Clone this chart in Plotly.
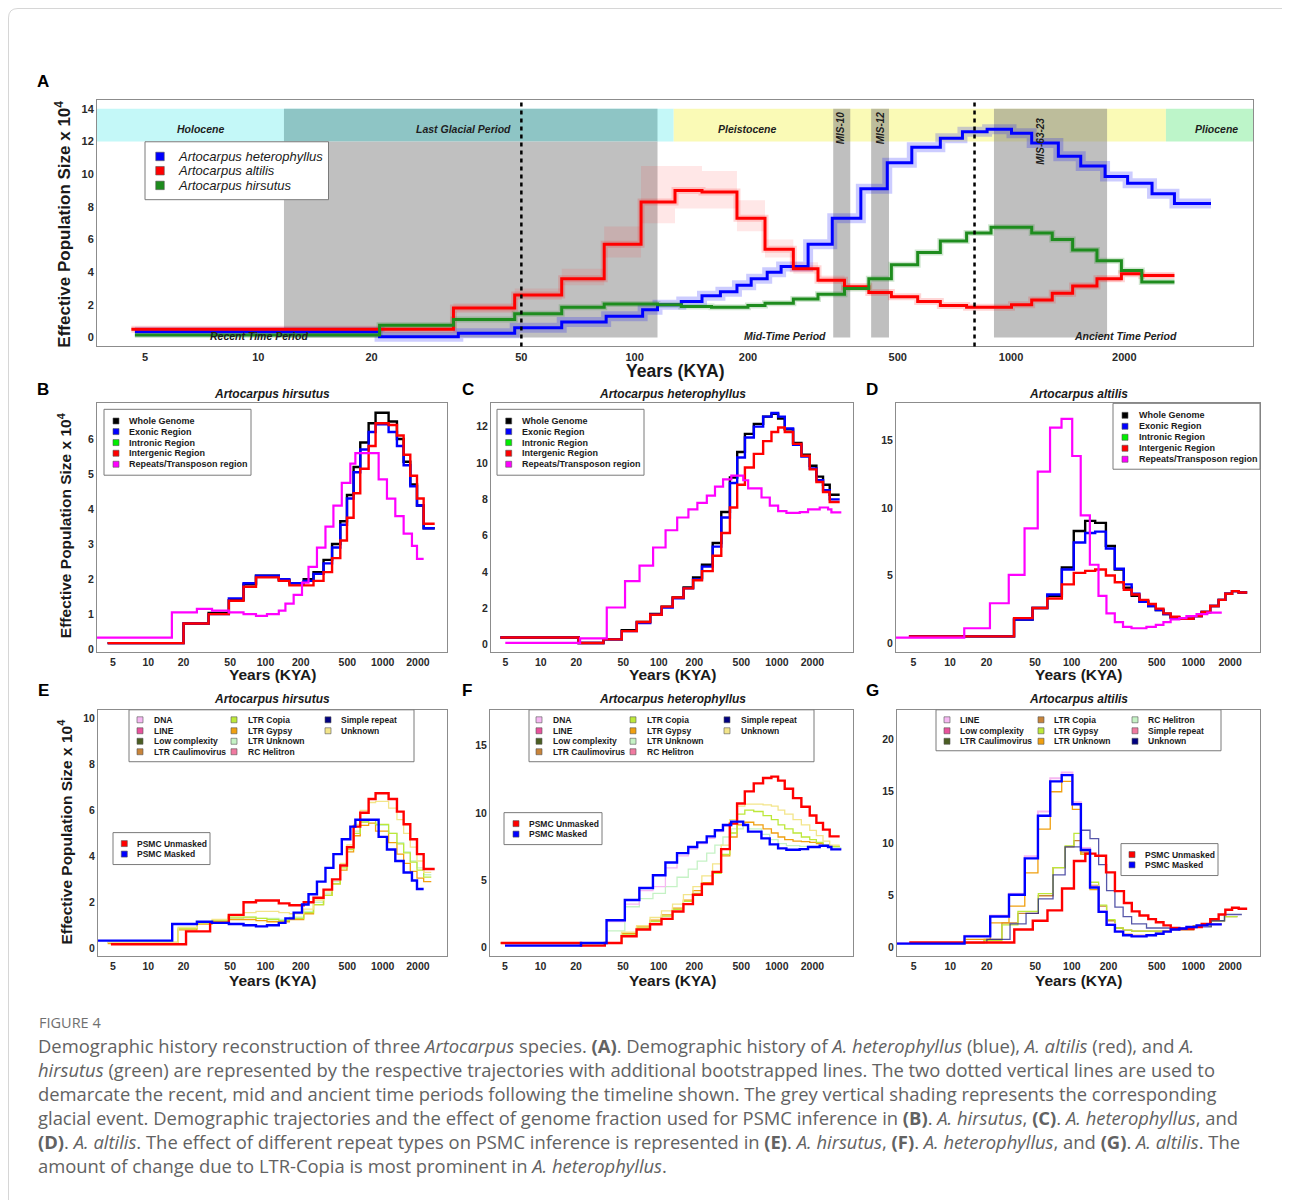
import plotly.graph_objects as go

# ======================= DATA =======================
KYA_TICKS = [5, 10, 20, 50, 100, 200, 500, 1000, 2000]

# ---- Panel A (time in KYA, Ne x 10^4), step boundaries / step values ----
A_het_t = [4.7, 21, 34, 48, 64, 84, 105, 115, 133, 151, 169, 187, 204, 225, 245, 289, 335, 399,
           469, 545, 649, 743, 864, 1003, 1135, 1336, 1532, 1778, 2041, 2370, 2718, 3400]
A_het_v = [0.35, 0.05, 0.25, 0.6, 0.95, 1.3, 1.7, 2.0, 2.2, 2.55, 2.8, 3.2, 3.6, 4.0, 4.35, 5.7,
           7.3, 9.1, 10.7, 11.65, 12.2, 12.6, 12.75, 12.5, 11.9, 11.1, 10.5, 9.85, 9.45, 8.8, 8.2]
A_alt_t = [4.6, 33, 48, 64, 83, 104, 128, 151, 187, 222, 264, 307, 361, 419, 481, 565, 649, 762,
           885, 1003, 1135, 1287, 1458, 1692, 1965, 2226, 2718]
A_alt_v = [0.5, 1.8, 2.6, 3.6, 5.7, 8.3, 9.0, 8.9, 7.3, 5.4, 4.2, 3.5, 3.1, 2.75, 2.5, 2.2, 1.95,
           1.85, 1.85, 2.0, 2.3, 2.7, 3.15, 3.6, 3.9, 3.8]
A_alt_boot_hi = [0.6, 2.1, 3.0, 4.2, 6.8, 10.5, 10.5, 10.2, 8.4, 6.0, 4.6, 3.8, 3.3, 2.9, 2.6, 2.3,
                 2.05, 1.95, 1.95, 2.1, 2.45, 2.9, 3.35, 3.8, 4.05, 3.95]
A_alt_boot_lo = [0.4, 1.5, 2.3, 3.2, 4.9, 7.0, 7.9, 7.9, 6.5, 4.9, 3.9, 3.3, 2.9, 2.6, 2.4, 2.1,
                 1.85, 1.75, 1.75, 1.9, 2.15, 2.5, 2.95, 3.4, 3.75, 3.65]
A_hir_t = [4.7, 21, 33, 48, 64, 83, 115, 133, 160, 200, 222, 264, 307, 361, 419, 481, 565, 649,
           762, 885, 1135, 1287, 1458, 1692, 1965, 2226, 2718]
A_hir_v = [0.15, 0.75, 1.1, 1.45, 1.85, 2.05, 2.0, 1.9, 1.85, 1.95, 2.1, 2.35, 2.65, 3.0, 3.6,
           4.45, 5.2, 5.9, 6.4, 6.75, 6.4, 6.0, 5.35, 4.7, 4.1, 3.4]
A_species = ["Artocarpus heterophyllus", "Artocarpus altilis", "Artocarpus hirsutus"]

# geological timeline (KYA)
LGP = (11.7, 115)
PLEIST = (127, 2580)
MIS = {"MIS-10": (337, 374), "MIS-12": (425, 474), "MIS-63-23": (901, 1800)}
PERIOD_BOUNDS = [50, 800]
EPOCH_LABELS = ["Holocene", "Last Glacial Period", "Pleistocene", "Pliocene"]
PERIOD_LABELS = ["Recent Time Period", "Mid-Time Period", "Ancient Time Period"]

# ---- Panel B: A. hirsutus genome fractions ----
B_t = [4.5, 20, 32.7, 48.7, 65, 83, 130, 160, 212, 257, 313, 370, 435, 496, 565, 644, 759, 870,
       1124, 1324, 1510, 1721, 1963, 2238, 2780]
B_whole = [0.17, 0.73, 1.03, 1.4, 1.85, 2.1, 1.97, 1.88, 2.0, 2.2, 2.55, 3.0, 3.65, 4.4, 5.2, 5.9,
           6.45, 6.75, 6.5, 6.0, 5.35, 4.7, 4.1, 3.45]
B_exon = [0.17, 0.73, 1.0, 1.45, 1.88, 2.1, 2.0, 1.88, 1.95, 2.15, 2.45, 2.9, 3.55, 4.3, 5.05, 5.7,
          6.2, 6.42, 6.2, 5.8, 5.25, 4.65, 4.1, 3.45]
B_interg = [0.17, 0.73, 1.0, 1.38, 1.78, 2.05, 1.95, 1.82, 1.82, 1.95, 2.2, 2.6, 3.1, 3.75, 4.45,
            5.15, 5.8, 6.45, 6.4, 6.1, 5.55, 4.95, 4.3, 3.58]
B_rep_t = [3.65, 15.9, 26, 35, 48.7, 65, 83, 103, 130, 148, 174, 205, 233, 275, 325, 380, 448, 530,
           585, 924, 1088, 1282, 1510, 1778, 1963, 2238]
B_rep = [0.33, 1.05, 1.15, 1.1, 1.05, 1.0, 0.95, 1.0, 1.1, 1.3, 1.55, 1.9, 2.35, 2.9, 3.5, 4.1,
         4.75, 5.3, 5.6, 4.85, 4.3, 3.8, 3.3, 2.95, 2.58]

# ---- Panel C: A. heterophyllus genome fractions ----
C_t = [4.54, 20.9, 33.9, 48.5, 65, 84.5, 105.6, 131, 162, 195, 232, 286, 338, 400, 461, 536, 638,
       765, 900, 1025, 1167, 1372, 1614, 1900, 2163, 2461, 2804, 3405]
C_whole = [0.4, 0.1, 0.3, 0.8, 1.25, 1.7, 2.1, 2.6, 3.15, 3.7, 4.4, 5.6, 7.3, 9.2, 10.6, 11.6,
           12.15, 12.55, 12.7, 12.45, 11.85, 11.1, 10.45, 9.85, 9.25, 8.8, 8.25]
C_exon = [0.4, 0.1, 0.3, 0.75, 1.2, 1.65, 2.05, 2.55, 3.1, 3.6, 4.3, 5.4, 7.0, 8.9, 10.3, 11.4,
          12.0, 12.55, 12.75, 12.55, 11.9, 11.0, 10.35, 9.7, 9.05, 8.5, 8.0]
C_interg = [0.4, 0.1, 0.3, 0.75, 1.25, 1.65, 2.1, 2.6, 3.1, 3.55, 4.05, 4.9, 6.15, 7.55, 8.8, 9.75,
            10.5, 11.2, 11.7, 11.95, 11.7, 11.05, 10.4, 9.65, 8.95, 8.4, 7.85]
C_rep_t = [5.0, 21.5, 36.2, 51.7, 68.6, 89.4, 114, 143, 178, 212, 255, 299, 350, 411, 519, 571, 741,
           871, 1025, 1205, 1563, 1838, 2307, 2715, 2897, 3517]
C_rep = [0.1, 0.35, 2.05, 3.5, 4.35, 5.35, 6.3, 7.0, 7.45, 7.8, 8.2, 8.7, 9.1, 9.3, 9.05, 8.6, 8.1,
         7.65, 7.35, 7.25, 7.3, 7.45, 7.55, 7.45, 7.28]

# ---- Panel D: A. altilis genome fractions ----
D_t = [4.6, 33.6, 47.7, 63, 83, 104, 129, 156, 191, 226, 268, 311, 360, 425, 491, 567, 650, 765,
       1000, 1169, 1374, 1611, 1828, 2076, 2355, 2764]
D_whole = [0.5, 1.75, 2.6, 3.5, 5.6, 8.3, 9.05, 8.9, 7.2, 5.45, 4.1, 3.5, 3.1, 2.75, 2.45, 2.15,
           1.9, 1.8, 2.0, 2.3, 2.75, 3.2, 3.65, 3.85, 3.75]
D_exon = [0.5, 1.75, 2.6, 3.6, 5.45, 7.45, 8.15, 8.25, 7.0, 5.5, 4.35, 3.65, 3.05, 2.75, 2.45, 2.15,
          1.9, 1.8, 2.0, 2.3, 2.75, 3.2, 3.65, 3.85, 3.75]
D_interg = [0.5, 1.85, 2.6, 3.3, 4.35, 5.2, 5.35, 5.45, 5.0, 4.5, 3.95, 3.6, 3.2, 2.9, 2.55, 2.2,
            1.95, 1.8, 2.0, 2.3, 2.75, 3.2, 3.65, 3.85, 3.75]
D_rep_t = [3.6, 13.1, 21.3, 30.4, 41, 52.6, 66.4, 82.5, 101, 118.6, 141, 166, 193, 226, 264, 310,
           411, 491, 567, 650, 765, 876, 1061, 1300, 1710]
D_rep = [0.4, 1.1, 2.95, 5.05, 8.5, 12.7, 15.95, 16.6, 13.85, 9.45, 5.8, 3.5, 2.2, 1.55, 1.2, 1.1,
         1.2, 1.35, 1.55, 1.75, 1.85, 2.0, 2.15, 2.25]

REGION_LABELS = ["Whole Genome", "Exonic Region", "Intronic Region", "Intergenic Region",
                 "Repeats/Transposon region"]

# ---- Panel E: A. hirsutus repeat types ----
E_t = [4.8, 21, 33.7, 48.7, 65, 83, 130, 160, 212, 257, 313, 370, 435, 496, 565, 644, 759, 870,
       1124, 1324, 1510, 1721, 1963, 2238, 2780]
E_unmasked = [0.17, 0.73, 1.1, 1.45, 2.0, 2.08, 1.95, 1.87, 2.0, 2.2, 2.55, 3.0, 3.6, 4.4, 5.3, 5.9,
              6.5, 6.75, 6.5, 5.95, 5.4, 4.75, 4.1, 3.45]
E_masked_t = [3.7, 16, 26, 35, 48.7, 65, 83, 103, 130, 148, 174, 205, 233, 275, 325, 380, 448, 530,
              585, 924, 1088, 1282, 1510, 1778, 1963, 2238]
E_masked = [0.33, 1.05, 1.15, 1.1, 1.05, 1.0, 0.95, 1.0, 1.1, 1.3, 1.55, 1.9, 2.35, 2.9, 3.5, 4.1,
            4.75, 5.3, 5.6, 4.85, 4.3, 3.8, 3.3, 2.95, 2.58]
E_rep_t = [4.5, 18, 26, 35, 48, 65, 83, 103, 130, 160, 212, 257, 313, 370, 435, 496, 565, 644, 759,
           870, 1124, 1324, 1510, 1721, 1963, 2238, 2600]
E_unknown = [0.25, 0.9, 1.15, 1.25, 1.45, 1.55, 1.6, 1.6, 1.55, 1.5, 1.7, 2.1, 2.5, 3.0, 3.7, 4.5,
             5.4, 6.0, 6.35, 6.4, 6.1, 5.6, 5.0, 4.4, 3.8, 3.3]
E_copia = [0.25, 0.85, 1.1, 1.2, 1.35, 1.35, 1.3, 1.25, 1.2, 1.3, 1.55, 1.9, 2.3, 2.8, 3.5, 4.3,
           5.0, 5.5, 5.6, 5.4, 5.0, 4.55, 4.15, 3.75, 3.4, 3.1]
E_gypsy = [0.2, 0.8, 1.05, 1.15, 1.25, 1.25, 1.2, 1.15, 1.15, 1.25, 1.5, 1.9, 2.3, 2.8, 3.4, 4.2,
           4.9, 5.35, 5.45, 5.1, 4.6, 4.1, 3.7, 3.35, 3.05, 2.9]
E_ltrunk = [0.25, 0.9, 1.1, 1.15, 1.3, 1.35, 1.3, 1.3, 1.25, 1.35, 1.6, 2.0, 2.4, 2.9, 3.6, 4.4,
            5.1, 5.5, 5.6, 5.35, 5.0, 4.6, 4.2, 3.8, 3.5, 3.2]

# ---- Panel F: A. heterophyllus repeat types ----
F_t = [4.6, 22, 35, 48.5, 65, 84.5, 105.6, 131, 162, 195, 232, 286, 338, 400, 461, 536, 638, 765,
       900, 1025, 1167, 1372, 1614, 1900, 2163, 2461, 2804, 3405]
F_unmasked = [0.3, 0.1, 0.3, 0.8, 1.3, 1.7, 2.1, 2.65, 3.2, 3.9, 4.7, 5.6, 7.3, 9.2, 10.7, 11.6,
              12.2, 12.6, 12.7, 12.4, 11.8, 11.1, 10.45, 9.8, 9.25, 8.75, 8.25]
F_gypsy = [0.3, 0.2, 0.3, 1.0, 1.5, 2.0, 2.4, 2.9, 3.5, 4.2, 4.8, 5.6, 6.8, 8.2, 9.1, 9.3, 9.1,
           8.8, 8.5, 8.2, 8.0, 7.9, 7.85, 7.8, 7.7, 7.55, 7.5]
F_copia = [0.3, 0.2, 0.3, 0.9, 1.4, 1.9, 2.3, 2.8, 3.4, 4.0, 4.7, 5.5, 6.9, 8.5, 9.9, 10.2, 10.1,
           9.8, 9.5, 9.1, 8.8, 8.5, 8.2, 8.0, 7.8, 7.6, 7.5]
F_unknown = [0.3, 0.2, 0.3, 1.1, 1.6, 2.2, 2.7, 3.2, 3.9, 4.5, 5.3, 6.2, 7.6, 9.5, 10.5, 10.65,
             10.65, 10.6, 10.5, 10.2, 9.9, 9.5, 9.1, 8.7, 8.3, 7.9, 7.6]
F_masked_t = [5.0, 22, 36.2, 51.7, 68.6, 89.4, 114, 143, 178, 212, 255, 299, 350, 411, 519, 571,
              741, 871, 1025, 1205, 1563, 1838, 2307, 2715, 2897, 3517]
F_masked = [0.1, 0.3, 2.0, 3.5, 4.4, 5.35, 6.3, 7.0, 7.45, 7.8, 8.25, 8.7, 9.1, 9.35, 9.1, 8.6,
            8.1, 7.65, 7.35, 7.25, 7.3, 7.45, 7.55, 7.45, 7.28]
F_dna = [0.15, 0.3, 1.9, 3.2, 4.2, 4.5, 5.9, 6.8, 7.3, 7.7, 8.1, 8.6, 9.0, 9.25, 9.1, 8.6, 8.1,
         7.65, 7.35, 7.25, 7.3, 7.45, 7.55, 7.45, 7.3]
F_ltrunk = [0.2, 0.3, 1.2, 3.0, 3.6, 4.0, 4.5, 5.2, 5.8, 6.4, 7.0, 7.6, 8.2, 8.8, 9.1, 8.8, 8.4,
            8.0, 7.7, 7.55, 7.5, 7.5, 7.5, 7.45, 7.4]

# ---- Panel G: A. altilis repeat types ----
G_t = [4.6, 33.6, 47.7, 63, 83, 104, 129, 156, 191, 226, 268, 311, 360, 425, 491, 567, 650, 765,
       1000, 1169, 1374, 1611, 1828, 2076, 2355, 2764]
G_unmasked = [0.5, 1.75, 2.6, 3.6, 5.7, 8.35, 9.05, 8.85, 7.25, 5.45, 4.3, 3.5, 3.1, 2.75, 2.45,
              2.15, 1.9, 1.8, 2.0, 2.3, 2.75, 3.2, 3.65, 3.85, 3.75]
G_masked_t = [3.6, 13.1, 21.3, 30.4, 41, 52.6, 66.4, 82.5, 101, 118.6, 141, 166, 193, 226, 264, 310,
              411, 491, 567, 650, 765, 876, 1061, 1300, 1710]
G_masked = [0.4, 1.1, 3.0, 5.1, 8.6, 12.7, 16.0, 16.6, 13.8, 9.4, 5.8, 3.45, 2.2, 1.55, 1.2, 1.1,
            1.2, 1.35, 1.55, 1.75, 1.85, 2.0, 2.15, 2.25]
G_line = [0.45, 1.15, 3.1, 5.2, 8.8, 13.1, 16.3, 16.85, 14.0, 9.6, 5.9, 3.5, 2.25, 1.6, 1.25, 1.15,
          1.2, 1.35, 1.55, 1.75, 1.85, 2.0, 2.15, 2.25]
G_ltrunk = [0.45, 0.8, 2.4, 4.0, 7.2, 11.4, 15.0, 16.0, 13.3, 9.0, 5.6, 3.4, 2.2, 1.6, 1.3, 1.2,
            1.25, 1.4, 1.6, 1.75, 1.85, 2.0, 2.15, 2.3]
G_gyp_t = [4.6, 19, 26.6, 36, 53, 70, 88, 104, 118, 141, 166, 193, 226, 264, 310, 411, 650, 1000,
           1400, 1800, 2300]
G_gypsy = [0.5, 0.7, 2.2, 3.5, 5.2, 7.7, 9.8, 11.0, 9.0, 6.3, 4.1, 2.7, 1.9, 1.7, 1.6, 1.6, 1.75,
           2.1, 2.6, 3.0]
G_copia = [0.5, 0.8, 2.4, 3.3, 5.0, 7.7, 9.7, 10.3, 9.2, 6.0, 4.0, 2.6, 1.9, 1.7, 1.6, 1.6, 1.75,
           2.1, 2.6, 3.0]
G_unk_t = [4.6, 20, 31, 42, 53, 70, 88, 118, 141, 166, 193, 226, 264, 310, 411, 650, 1000, 1400,
           1800, 2500]
G_unknown = [0.5, 0.8, 2.3, 3.3, 4.7, 7.0, 9.7, 11.3, 10.5, 8.0, 5.5, 3.9, 3.0, 2.3, 1.9, 1.8, 2.0,
             2.6, 3.2]

REPEAT_LABELS_EF = ["DNA", "LINE", "Low complexity", "LTR Caulimovirus", "LTR Copia", "LTR Gypsy",
                    "LTR Unknown", "RC Helitron", "Simple repeat", "Unknown"]
REPEAT_LABELS_G = ["LINE", "Low complexity", "LTR Caulimovirus", "LTR Copia", "LTR Gypsy",
                   "LTR Unknown", "RC Helitron", "Simple repeat", "Unknown"]
PSMC_LABELS = ["PSMC Unmasked", "PSMC Masked"]

# ======================= STYLE / LAYOUT =======================
OFF = 8                      # page body margin of the html page
W, H = 1290 - OFF, 1200 - OFF
FONT = "Liberation Sans, Arial, sans-serif"
CAP_FONT = "Open Sans, Lato, sans-serif"
PAL10 = ['#f6b8f2', '#e8529c', '#4b5e23', '#c8843a', '#bde83a', '#f0a010', '#c5f2c5', '#f07aa0',
         '#000080', '#f3e58a']
REGION_COLORS = ['#000000', '#0000ff', '#00ee00', '#ff0000', '#ff00ff']
SPECIES_COLORS = ['#0000ff', '#ff0000', '#1e8c1e']


def px(x):
    return (x - OFF) / W


def py(y):
    return 1 - (y - OFF) / H


def step(t, v):
    assert len(t) == len(v) + 1, (len(t), len(v))
    return list(t), list(v) + [v[-1]]


PANELS = {
    'A': dict(n=1, box=(97, 100, 1253, 347), xr=(0.5714, 3.643), yr=(-0.55, 14.55), yt=list(range(0, 15, 2)), fs=11),
    'B': dict(n=2, box=(97, 404, 447, 653.5), xr=(0.5625, 3.549), yr=(-0.095, 7.02), yt=list(range(0, 7)), fs=10.5),
    'C': dict(n=3, box=(491, 404, 853, 653.5), xr=(0.5778, 3.645), yr=(-0.42, 13.28), yt=list(range(0, 13, 2)), fs=10.5),
    'D': dict(n=4, box=(896, 404, 1260, 653.5), xr=(0.5566, 3.547), yr=(-0.69, 17.75), yt=[0, 5, 10, 15], fs=10.5),
    'E': dict(n=5, box=(98, 711, 447, 958), xr=(0.571, 3.549), yr=(-0.36, 10.39), yt=list(range(0, 11, 2)), fs=10.5),
    'F': dict(n=6, box=(490, 711, 853, 958), xr=(0.572, 3.645), yr=(-0.70, 17.68), yt=[0, 5, 10, 15], fs=10.5),
    'G': dict(n=7, box=(897, 711, 1260, 958), xr=(0.562, 3.547), yr=(-0.83, 22.88), yt=[0, 5, 10, 15, 20], fs=10.5),
}


def axn(n, kind):
    return kind if n == 1 else f"{kind}{n}"


fig = go.Figure()
layout = dict(width=W, height=H, margin=dict(l=0, r=0, t=0, b=0), paper_bgcolor='white',
              plot_bgcolor='white', showlegend=False, font=dict(family=FONT, color='#222'))
shapes, annots = [], []

for key, P in PANELS.items():
    n = P['n']
    x0, y0, x1, y1 = P['box']
    tf = dict(family=FONT, size=P['fs'], color='#2a2a2a', weight='bold')
    layout['xaxis' if n == 1 else f'xaxis{n}'] = dict(
        type='log', domain=[px(x0), px(x1)], range=list(P['xr']), anchor=axn(n, 'y'),
        tickmode='array', tickvals=KYA_TICKS, ticktext=[str(v) for v in KYA_TICKS],
        showgrid=False, zeroline=False, showline=True, mirror=True, linecolor='#8c8c8c',
        linewidth=1, ticks='', tickfont=tf, fixedrange=True)
    layout['yaxis' if n == 1 else f'yaxis{n}'] = dict(
        domain=[py(y1), py(y0)], range=list(P['yr']), anchor=axn(n, 'x'),
        tickmode='array', tickvals=P['yt'], showgrid=False, zeroline=False, showline=True,
        mirror=True, linecolor='#8c8c8c', linewidth=1, ticks='', tickfont=tf, fixedrange=True)


def add_step(n, t, v, color, width, opacity=1.0, dash=None):
    x, y = step(t, v)
    fig.add_trace(go.Scatter(x=x, y=y, mode='lines',
                             line=dict(shape='hv', color=color, width=width, dash=dash),
                             opacity=opacity, xaxis=axn(n, 'x'), yaxis=axn(n, 'y'),
                             hoverinfo='skip', showlegend=False))


# ---------------- Panel A backgrounds ----------------
xminA = 10 ** PANELS['A']['xr'][0]
xmaxA = 10 ** PANELS['A']['xr'][1]


def rectA(x0, x1, y0, y1, color, opacity=1.0):
    shapes.append(dict(type='rect', xref='x', yref='y', x0=x0, x1=x1, y0=y0, y1=y1,
                       fillcolor=color, opacity=opacity, line=dict(width=0), layer='below'))


rectA(xminA, PLEIST[0], 12, 14, '#c4f8f8')
rectA(LGP[0], LGP[1], 12, 14, '#8ec5c5')
rectA(PLEIST[0], PLEIST[1], 12, 14, '#fafab6')
rectA(PLEIST[1], xmaxA, 12, 14, '#bdf5c9')
rectA(LGP[0], LGP[1], 0, 12, '#c0c0c0')
for name, (a, b) in MIS.items():
    rectA(a, b, 0, 14, 'rgba(128,128,128,0.5)')
for xb in PERIOD_BOUNDS:
    shapes.append(dict(type='line', xref='x', yref='y domain', x0=xb, x1=xb, y0=0, y1=1,
                       line=dict(color='black', width=2.5, dash='4px,4px'), layer='above'))

# bootstrap envelope / halos
xb, ylo = step(A_alt_t, A_alt_boot_lo)
_, yhi = step(A_alt_t, A_alt_boot_hi)
fig.add_trace(go.Scatter(x=xb, y=ylo, mode='lines', line=dict(shape='hv', width=0, color='red'),
                         xaxis='x', yaxis='y', hoverinfo='skip', showlegend=False))
fig.add_trace(go.Scatter(x=xb, y=yhi, mode='lines', line=dict(shape='hv', width=0, color='red'),
                         fill='tonexty', fillcolor='rgba(255,40,40,0.11)',
                         xaxis='x', yaxis='y', hoverinfo='skip', showlegend=False))
add_step(1, A_het_t, A_het_v, 'rgba(0,0,255,0.2)', 10)
add_step(1, A_alt_t, A_alt_v, 'rgba(255,0,0,0.16)', 7)
add_step(1, A_hir_t, A_hir_v, 'rgba(0,120,0,0.18)', 6)
add_step(1, A_het_t, A_het_v, SPECIES_COLORS[0], 3)
add_step(1, A_alt_t, A_alt_v, SPECIES_COLORS[1], 3)
add_step(1, A_hir_t, A_hir_v, SPECIES_COLORS[2], 3)

# ---------------- Panels B-D ----------------
for n, (t, wh, ex, ig, rt, rp) in zip([2, 3, 4], [
        (B_t, B_whole, B_exon, B_interg, B_rep_t, B_rep),
        (C_t, C_whole, C_exon, C_interg, C_rep_t, C_rep),
        (D_t, D_whole, D_exon, D_interg, D_rep_t, D_rep)]):
    add_step(n, t, wh, REGION_COLORS[0], 2.4)
    add_step(n, t, ex, REGION_COLORS[1], 2.4)
    add_step(n, t, ig, REGION_COLORS[3], 2.4)
    add_step(n, rt, rp, REGION_COLORS[4], 2.2)

# ---------------- Panels E-G ----------------
TW = 1.3
add_step(5, E_rep_t, E_ltrunk, PAL10[6], TW)
add_step(5, E_rep_t, E_gypsy, PAL10[5], TW)
add_step(5, E_rep_t, E_copia, PAL10[4], TW)
add_step(5, E_rep_t, E_unknown, PAL10[9], TW)
add_step(5, E_t, E_unmasked, '#ff0000', 2.4)
add_step(5, E_masked_t, E_masked, '#0000ff', 2.4)

add_step(6, F_masked_t, F_ltrunk, PAL10[6], TW)
add_step(6, F_masked_t, F_dna, PAL10[0], TW)
add_step(6, F_t, F_gypsy, PAL10[5], TW)
add_step(6, F_t, F_copia, PAL10[4], TW)
add_step(6, F_t, F_unknown, PAL10[9], TW)
add_step(6, F_t, F_unmasked, '#ff0000', 2.4)
add_step(6, F_masked_t, F_masked, '#0000ff', 2.4)

add_step(7, G_gyp_t, G_copia, PAL10[3], TW)
add_step(7, G_gyp_t, G_gypsy, PAL10[4], TW)
add_step(7, G_masked_t, G_ltrunk, PAL10[5], TW)
add_step(7, G_unk_t, G_unknown, 'rgba(30,30,140,0.75)', TW)
add_step(7, G_masked_t, G_line, PAL10[0], 2.0)
add_step(7, G_t, G_unmasked, '#ff0000', 2.4)
add_step(7, G_masked_t, G_masked, '#0000ff', 2.4)


# ======================= TEXT =======================
def text(x, y, s, size, color='#222', weight='normal', style='normal', xanchor='center',
         angle=0, family=FONT, yanchor='middle'):
    annots.append(dict(x=px(x), y=py(y), xref='paper', yref='paper', text=s, showarrow=False,
                       xanchor=xanchor, yanchor=yanchor, textangle=angle,
                       font=dict(family=family, size=size, color=color, weight=weight, style=style)))


# panel letters
for lab, (x, y) in zip("ABCDEFG", [(43, 82), (43, 390), (468, 390), (872, 390), (43, 692),
                                    (467, 692), (872, 692)]):
    text(x, y, lab, 17, color='black', weight='bold')

# panel A labels
for lab, x in zip(EPOCH_LABELS, [200, 463, 747, 1216]):
    text(x, 129, lab, 10.5, color='#1e1e1e', weight='bold', style='italic')
for lab, x in zip(PERIOD_LABELS, [259, 785, 1125]):
    text(x, 337, lab, 10.5, color='#1e1e1e', weight='bold', style='italic')
for (lab, _), x, y in zip(MIS.items(), [840.5, 880.5, 1041], [128, 128, 142]):
    text(x, y, lab, 10, color='#1e1e1e', weight='bold', style='italic', angle=-90)

# axis titles
YT = "Effective Population Size x 10<sup>4</sup>"
text(63, 225, YT, 17, color='#1a1a1a', weight='bold', angle=-90)
text(65, 527, YT, 15.5, color='#1a1a1a', weight='bold', angle=-90)
text(65, 834, YT, 15.5, color='#1a1a1a', weight='bold', angle=-90)
text(675, 371.5, "Years (KYA)", 17.5, color='#1a1a1a', weight='bold')
for x in [272, 672, 1078]:
    text(x, 676, "Years (KYA)", 15.5, color='#1a1a1a', weight='bold')
    text(x, 982, "Years (KYA)", 15.5, color='#1a1a1a', weight='bold')

# subplot titles
for x, y, s in [(272, 395, "Artocarpus hirsutus"), (672, 395, "Artocarpus heterophyllus"),
                (1078, 395, "Artocarpus altilis"), (272, 700, "Artocarpus hirsutus"),
                (672, 700, "Artocarpus heterophyllus"), (1078, 700, "Artocarpus altilis")]:
    text(x, y, s, 12, color='#1a1a1a', weight='bold', style='italic')


# ======================= LEGENDS =======================
def legend(box, labels, colors, rows_y, cols_mx, cols_tx, nrows, size, msize, weight='bold',
           style='normal', border='#7a7a7a'):
    shapes.append(dict(type='rect', xref='paper', yref='paper', x0=px(box[0]), x1=px(box[2]),
                       y0=py(box[3]), y1=py(box[1]), line=dict(color=border, width=1),
                       fillcolor='white', layer='above'))
    for i, (lab, col) in enumerate(zip(labels, colors)):
        c, r = divmod(i, nrows)
        mx, tx, yy = cols_mx[c], cols_tx[c], rows_y[r]
        h = msize / 2
        shapes.append(dict(type='rect', xref='paper', yref='paper', x0=px(mx - h), x1=px(mx + h),
                           y0=py(yy + h), y1=py(yy - h), fillcolor=col,
                           line=dict(color='#555', width=0.6), layer='above'))
        text(tx, yy, lab, size, color='#1a1a1a', weight=weight, style=style, xanchor='left')


legend((145, 142, 328.5, 200), A_species, SPECIES_COLORS, [156.7, 171, 185.7], [160], [175.5], 3,
       13, 8.5, weight='normal', style='italic')
legend((104, 410, 251, 476), REGION_LABELS, REGION_COLORS, [421.7, 432.3, 443.3, 454, 465], [116],
       [127], 5, 9, 6)
legend((497, 410, 644, 476), REGION_LABELS, REGION_COLORS, [421.7, 432.3, 443.3, 454, 465], [508.7],
       [520], 5, 9, 6)
legend((1113, 404, 1260, 470), REGION_LABELS, REGION_COLORS, [416, 427, 438, 449, 460], [1125],
       [1137], 5, 9, 6)

legend((129, 711, 414, 763), REPEAT_LABELS_EF, PAL10, [721, 732, 742.5, 753], [140, 234, 328],
       [152, 246, 339], 4, 8.5, 6)
legend((529, 711, 814, 763), REPEAT_LABELS_EF, PAL10, [721, 732, 742.5, 753], [539, 633, 727],
       [551, 645, 739], 4, 8.5, 6)
legend((936, 711, 1221, 752), REPEAT_LABELS_G, PAL10[:9],
       [721, 732, 742.5], [947, 1041, 1135], [958, 1052, 1146], 3, 8.5, 6)

legend((113, 834, 210, 866), PSMC_LABELS, ['#ff0000', '#0000ff'], [845, 855.5], [124.3], [135], 2,
       8.5, 6)
legend((504, 814, 602, 846), PSMC_LABELS, ['#ff0000', '#0000ff'], [825, 835.5], [516], [527], 2,
       8.5, 6)
legend((1121, 845, 1218, 877), PSMC_LABELS, ['#ff0000', '#0000ff'], [856, 866.3], [1132], [1143], 2,
       8.5, 6)

# ======================= CAPTION =======================
CAPTION_TITLE = "FIGURE 4"
CAPTION_LINES = [
    "Demographic history reconstruction of three <i>Artocarpus</i> species. <b>(A)</b>. Demographic history of <i>A. heterophyllus</i> (blue), <i>A. altilis</i> (red), and <i>A.</i>",
    "<i>hirsutus</i> (green) are represented by the respective trajectories with additional bootstrapped lines. The two dotted vertical lines are used to",
    "demarcate the recent, mid and ancient time periods following the timeline shown. The grey vertical shading represents the corresponding",
    "glacial event. Demographic trajectories and the effect of genome fraction used for PSMC inference in <b>(B)</b>. <i>A. hirsutus</i>, <b>(C)</b>. <i>A. heterophyllus</i>, and",
    "<b>(D)</b>. <i>A. altilis</i>. The effect of different repeat types on PSMC inference is represented in <b>(E)</b>. <i>A. hirsutus</i>, <b>(F)</b>. <i>A. heterophyllus</i>, and <b>(G)</b>. <i>A. altilis</i>. The",
    "amount of change due to LTR-Copia is most prominent in <i>A. heterophyllus</i>.",
]
text(37, 1024, CAPTION_TITLE, 14.5, color='#707070', xanchor='left', family=CAP_FONT)
for i, line in enumerate(CAPTION_LINES):
    text(36, 1047 + 24 * i, line, 18.4, color='#626262', xanchor='left', family=CAP_FONT)

# outer frame (rounded top-left)
shapes.append(dict(type='path', xref='paper', yref='paper',
                   path=f"M {px(8.5)},{py(1215)} L {px(8.5)},{py(18)} Q {px(8.5)},{py(8.5)} {px(18)},{py(8.5)} L {px(1300)},{py(8.5)}",
                   line=dict(color='#d6d6d6', width=1), layer='above'))

layout['shapes'] = shapes
layout['annotations'] = annots
fig.update_layout(**layout)
fig.write_html("out.html")
